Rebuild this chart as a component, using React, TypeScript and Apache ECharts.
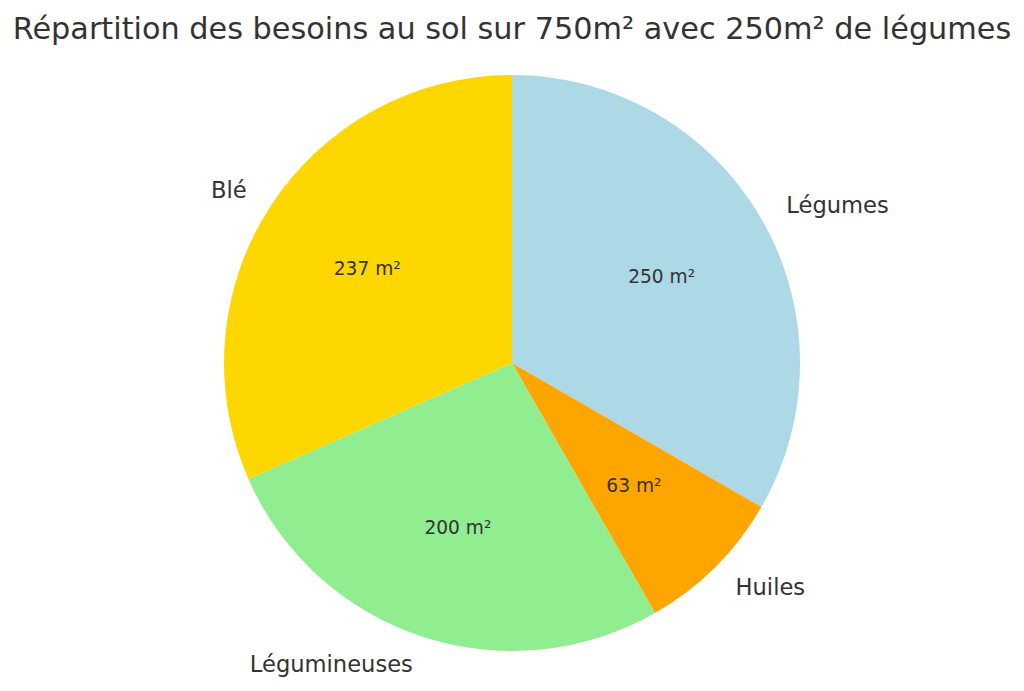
import React, { useEffect, useRef } from "react";
import * as echarts from "echarts";

const categories = ["Légumes", "Huiles", "Légumineuses", "Blé"];
const values = [250, 63, 200, 237];
const colors = ["#ADD8E6", "#FFA500", "#90EE90", "#FFD700"];
const titleText = "Répartition des besoins au sol sur 750m² avec 250m² de légumes";

export default function App() {
  const ref = useRef<HTMLDivElement>(null);
  useEffect(() => {
    document.body.style.margin = "0";
    const chart = echarts.init(ref.current!, null, { renderer: "svg" });
    const R = 288;
    const font = "'DejaVu Sans', sans-serif";
    const data = categories.map((name, i) => ({
      name,
      value: values[i],
      itemStyle: { color: colors[i] },
    }));
    chart.setOption({
      animation: false,
      backgroundColor: "#ffffff",
      title: {
        text: titleText,
        left: "center",
        top: 8,
        textStyle: {
          fontFamily: font,
          fontSize: 30.3,
          fontWeight: "normal",
          color: "#333333",
        },
      },
      series: [
        {
          type: "pie",
          center: [512, 363],
          radius: [0, R],
          startAngle: 90,
          clockwise: true,
          avoidLabelOverlap: false,
          silent: true,
          itemStyle: { borderWidth: 0 },
          label: {
            show: true,
            position: "outside",
            formatter: "{b}",
            fontFamily: font,
            fontSize: 22.6,
            color: "#333333",
            distanceToLabelLine: 0,
          },
          labelLine: { show: false, length: R * 0.1, length2: 0 },
          data,
        },
        {
          type: "pie",
          center: [512, 363],
          radius: [0, (R * 0.6 - 3) * 2],
          startAngle: 90,
          clockwise: true,
          avoidLabelOverlap: false,
          silent: true,
          itemStyle: { color: "rgba(0,0,0,0)", borderWidth: 0 },
          label: {
            show: true,
            position: "inside",
            formatter: "{c} m²",
            fontFamily: font,
            fontSize: 18.6,
            color: "#333333",
          },
          labelLine: { show: false },
          data: categories.map((name, i) => ({ name, value: values[i] })),
        },
      ],
    });
    return () => chart.dispose();
  }, []);
  return <div ref={ref} style={{ width: 1024, height: 691 }} />;
}
